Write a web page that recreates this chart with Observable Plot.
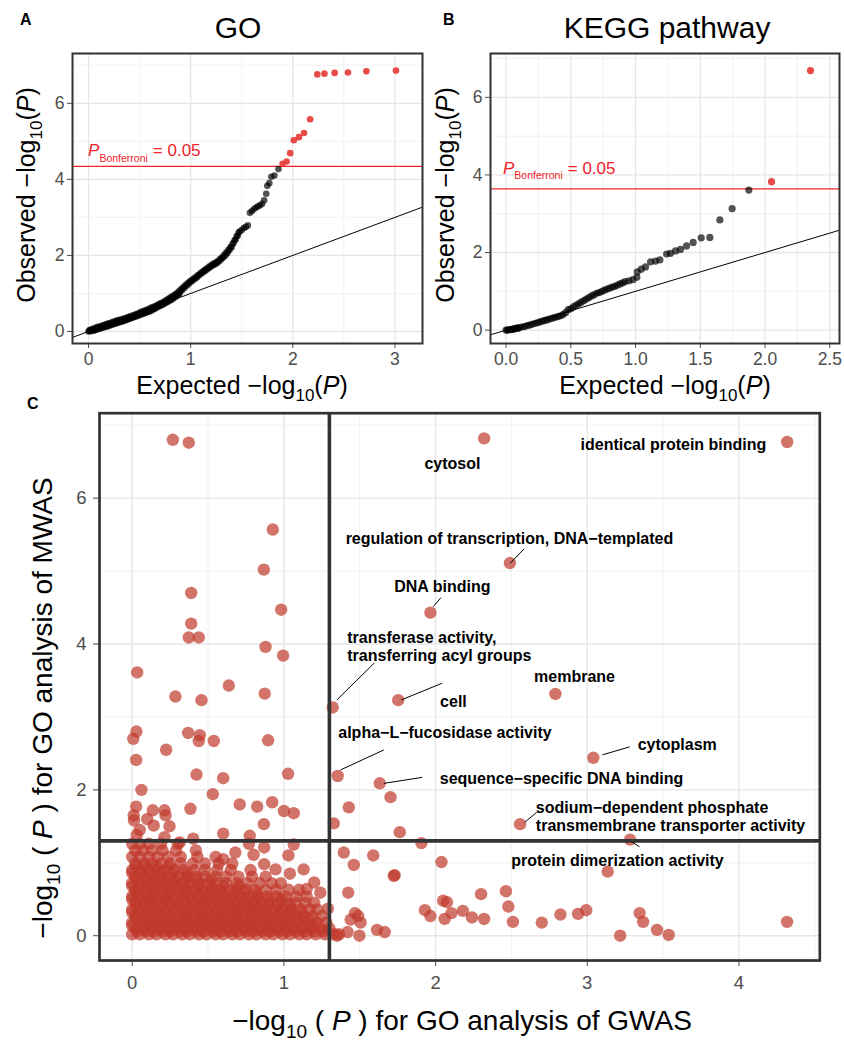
<!DOCTYPE html>
<html><head><meta charset="utf-8">
<script src="https://cdn.jsdelivr.net/npm/d3@7"></script>
<script src="https://cdn.jsdelivr.net/npm/@observablehq/plot@0.6"></script>
<style>
body{margin:0;background:#fff;}
#wrap{position:relative;width:844px;height:1041px;overflow:hidden;}
</style></head><body><div id="wrap"></div>
<script>
// ---------- Panel A: GO QQ plot (expected, observed) ----------
const goThreshold = 4.34;
const goPoints = [[0,0],[0.01,0.01],[0.02,0.03],[0.04,0.04],[0.06,0.05],[0.08,0.07],[0.1,0.09],[0.12,0.1],[0.14,0.12],[0.16,0.14],[0.18,0.15],[0.2,0.17],[0.22,0.19],[0.24,0.21],[0.26,0.23],[0.28,0.25],[0.3,0.26],[0.32,0.28],[0.34,0.29],[0.36,0.31],[0.38,0.33],[0.4,0.35],[0.42,0.37],[0.44,0.39],[0.46,0.41],[0.48,0.43],[0.5,0.46],[0.52,0.48],[0.54,0.5],[0.56,0.52],[0.58,0.54],[0.6,0.57],[0.62,0.59],[0.64,0.61],[0.66,0.64],[0.68,0.67],[0.7,0.7],[0.72,0.72],[0.74,0.75],[0.76,0.79],[0.78,0.82],[0.8,0.85],[0.82,0.88],[0.84,0.92],[0.86,0.96],[0.88,1.0],[0.9,1.05],[0.92,1.1],[0.94,1.15],[0.96,1.2],[0.98,1.25],[1.0,1.3],[1.02,1.34],[1.04,1.38],[1.06,1.42],[1.08,1.47],[1.1,1.52],[1.12,1.55],[1.14,1.59],[1.16,1.63],[1.18,1.67],[1.2,1.71],[1.22,1.74],[1.24,1.77],[1.26,1.8],[1.28,1.85],[1.3,1.9],[1.32,1.95],[1.34,2.0],[1.36,2.06],[1.38,2.14],[1.4,2.21],[1.42,2.33],[1.44,2.42],[1.46,2.52],[1.48,2.63],[1.5,2.67],[1.52,2.72],[1.54,2.75],[1.56,2.79],[1.58,3.12],[1.6,3.17],[1.62,3.22],[1.64,3.26],[1.66,3.29],[1.68,3.32],[1.7,3.36],[1.72,3.45],[1.74,3.62],[1.75,3.83],[1.77,3.9],[1.79,4.07],[1.82,4.1],[1.86,4.27],[1.9,4.41],[1.94,4.47],[1.975,4.69],[2.01,5.03],[2.06,5.11],[2.11,5.22],[2.17,5.58],[2.24,6.76],[2.31,6.78],[2.41,6.8],[2.54,6.81],[2.72,6.84],[3.01,6.86]];
const goPointsUpper = [[0.01,0.04],[0.03,0.06],[0.05,0.08],[0.07,0.1],[0.09,0.12],[0.11,0.13],[0.13,0.15],[0.15,0.17],[0.17,0.19],[0.19,0.21],[0.21,0.22],[0.23,0.24],[0.25,0.26],[0.27,0.28],[0.29,0.3],[0.31,0.31],[0.33,0.33],[0.35,0.34],[0.37,0.36],[0.39,0.38],[0.41,0.4],[0.43,0.42],[0.45,0.44],[0.47,0.46],[0.49,0.48],[0.51,0.51],[0.53,0.53],[0.55,0.55],[0.57,0.57],[0.59,0.59],[0.61,0.62],[0.63,0.64],[0.65,0.66],[0.67,0.69],[0.69,0.72],[0.71,0.75],[0.73,0.77],[0.75,0.81],[0.77,0.84],[0.79,0.87],[0.81,0.91],[0.83,0.94],[0.85,0.98],[0.87,1.02],[0.89,1.07],[0.91,1.12],[0.93,1.17],[0.95,1.22],[0.97,1.27],[0.99,1.31],[1.01,1.35],[1.03,1.39],[1.05,1.43],[1.07,1.48],[1.09,1.52],[1.11,1.56],[1.13,1.6],[1.15,1.64],[1.17,1.68],[1.19,1.72],[1.21,1.76],[1.23,1.79],[1.25,1.82],[1.27,1.86],[1.29,1.91],[1.31,1.96],[1.33,2.02],[1.35,2.08],[1.37,2.15],[1.39,2.22],[1.41,2.3],[1.43,2.4],[1.45,2.5],[1.47,2.6]];
const goPointsLower = [[0.03,0.01],[0.05,0.02],[0.07,0.04],[0.09,0.06],[0.11,0.07],[0.13,0.09],[0.15,0.11],[0.17,0.12],[0.19,0.14],[0.21,0.16],[0.23,0.18],[0.25,0.2],[0.27,0.21],[0.29,0.23],[0.31,0.25],[0.33,0.26],[0.35,0.28],[0.37,0.3],[0.39,0.32],[0.41,0.34],[0.43,0.36],[0.45,0.38],[0.47,0.4],[0.49,0.42],[0.51,0.44],[0.53,0.46],[0.55,0.48],[0.57,0.5],[0.59,0.52],[0.61,0.54],[0.63,0.57],[0.65,0.6],[0.67,0.63],[0.69,0.66],[0.71,0.68],[0.73,0.71],[0.75,0.74],[0.77,0.77],[0.79,0.8],[0.81,0.83],[0.83,0.87],[0.85,0.91],[0.87,0.95],[0.89,0.99]];
const goXDomain = [-0.157, 3.27];
const goYDomain = [-0.316, 7.31];
const goXTicks = [0, 1, 2, 3];
const goXMinor = [0.5, 1.5, 2.5];
const goYTicks = [0, 2, 4, 6];
const goYMinor = [1, 3, 5, 7];
const goBonfLabel = [0, 4.6];

// ---------- Panel B: KEGG QQ plot ----------
const keggThreshold = 3.64;
const keggPoints = [[0,0],[0.01,0.0],[0.02,0.01],[0.03,0.01],[0.04,0.02],[0.05,0.02],[0.06,0.03],[0.07,0.04],[0.08,0.05],[0.09,0.05],[0.1,0.06],[0.12,0.08],[0.14,0.09],[0.16,0.11],[0.18,0.13],[0.2,0.15],[0.22,0.17],[0.24,0.19],[0.26,0.21],[0.28,0.23],[0.3,0.25],[0.32,0.27],[0.34,0.29],[0.36,0.31],[0.38,0.33],[0.4,0.35],[0.42,0.37],[0.44,0.4],[0.46,0.45],[0.48,0.53],[0.5,0.55],[0.52,0.6],[0.54,0.64],[0.56,0.68],[0.58,0.72],[0.6,0.76],[0.62,0.8],[0.64,0.84],[0.66,0.88],[0.68,0.91],[0.7,0.95],[0.72,0.97],[0.74,1.0],[0.76,1.03],[0.78,1.06],[0.8,1.08],[0.82,1.11],[0.84,1.13],[0.86,1.16],[0.88,1.19],[0.9,1.22],[0.92,1.25],[0.95,1.27],[0.98,1.3],[1.01,1.36],[1.013,1.5],[1.044,1.57],[1.077,1.63],[1.116,1.76],[1.154,1.78],[1.188,1.81],[1.24,1.96],[1.27,1.98],[1.309,2.04],[1.347,2.08],[1.394,2.17],[1.445,2.26],[1.507,2.38],[1.574,2.39],[1.651,2.84],[1.746,3.13],[1.875,3.61],[2.05,3.825],[2.351,6.69]];
const keggXDomain = [-0.12, 2.575];
const keggYDomain = [-0.345, 7.13];
const keggXTicks = [0, 0.5, 1, 1.5, 2, 2.5];
const keggXMinor = [0.25, 0.75, 1.25, 1.75, 2.25];
const keggYTicks = [0, 2, 4, 6];
const keggYMinor = [1, 3, 5, 7];
const keggBonfLabel = [-0.02, 4.02];

// ---------- Panel C: GWAS vs MWAS GO -log10(P) ----------
const cLabeledPoints = [[4.318,6.77],[2.32,6.82],[2.49,5.11],[1.966,4.43],[1.322,3.13],[1.754,3.23],[2.79,3.315],[1.355,2.19],[3.04,2.44],[1.632,2.09],[2.557,1.53],[3.282,1.317]];
const cUpperLeftPoints = [[0.268,6.80],[0.373,6.76],[0.927,5.57],[0.868,5.02],[0.389,4.70],[0.982,4.47],[0.389,4.28],[0.373,4.09],[0.439,4.09],[0.879,3.96],[0.995,3.84],[0.033,3.61],[0.637,3.43],[0.285,3.28],[0.457,3.23],[0.874,3.32],[0.028,2.80],[0.007,2.70],[0.369,2.78],[0.446,2.75],[0.439,2.67],[0.538,2.67],[0.896,2.68],[0.224,2.55],[0.026,2.41],[0.424,2.21],[0.600,2.16],[1.028,2.22],[0.061,2.00],[0.531,1.94],[0.026,1.77],[0.136,1.72],[0.213,1.72],[0.384,1.74],[0.709,1.80],[0.824,1.77],[0.923,1.83],[1.0,1.71],[1.065,1.68],[0.01,1.65],[0.012,1.58],[0.099,1.60],[0.22,1.65],[0.142,1.51],[0.246,1.50],[0.868,1.53],[0.6,1.40],[0.775,1.37],[0.213,1.35],[0.402,1.33],[0.05,1.45],[0.03,1.38],[0.314,1.28],[0.77,1.26],[0.87,1.21],[1.065,1.25],[1.03,1.10],[0.80,1.11],[0.68,1.14],[0.60,1.05],[0.87,0.98],[1.13,0.91],[0.945,0.91],[1.04,0.85],[1.15,0.64],[1.24,0.59],[1.29,0.37],[1.2,0.73]];
const cRightPoints = [[1.428,1.76],[1.329,1.54],[1.703,1.90],[1.764,1.42],[1.907,1.27],[1.395,1.14],[1.589,1.10],[1.461,0.97],[2.039,1.01],[1.725,0.82],[1.73,0.83],[1.424,0.59],[3.135,0.88],[2.30,0.57],[2.464,0.61],[2.48,0.40],[2.05,0.48],[2.075,0.46],[1.93,0.35],[1.966,0.27],[2.105,0.31],[2.18,0.34],[2.24,0.25],[2.06,0.23],[2.32,0.23],[2.51,0.19],[2.70,0.18],[2.823,0.29],[2.939,0.30],[2.993,0.35],[3.345,0.31],[3.368,0.19],[3.217,0.0],[3.46,0.08],[3.537,0.01],[4.317,0.19],[1.469,0.31],[1.49,0.27],[1.506,0.18],[1.498,0.0],[1.614,0.08],[1.665,0.05],[1.364,0.02],[1.351,0.0],[1.42,0.05],[1.44,0.22]];
// dense cluster: one row of GWAS values per MWAS level
const cBlobY = [0.02, 0.06, 0.10, 0.14, 0.18, 0.23, 0.27, 0.32, 0.36, 0.41, 0.45, 0.50, 0.54, 0.59, 0.63, 0.68, 0.72, 0.77, 0.81, 0.86, 0.90, 0.95, 0.99, 1.08, 1.17, 1.26];
const cBlobX = [
  [0.00,0.05,0.11,0.16,0.22,0.27,0.33,0.38,0.44,0.49,0.55,0.6,0.66,0.71,0.77,0.82,0.88,0.93,0.99,1.04,1.1,1.15,1.21,1.27,1.33],
  [0.03,0.09,0.14,0.2,0.25,0.31,0.36,0.42,0.47,0.53,0.58,0.64,0.69,0.75,0.8,0.86,0.91,0.97,1.02,1.08,1.14,1.2,1.26],
  [0.02,0.08,0.13,0.19,0.24,0.3,0.35,0.41,0.46,0.52,0.57,0.63,0.68,0.74,0.79,0.85,0.9,0.96,1.01,1.07,1.12,1.18,1.24,1.3],
  [0.0,0.06,0.12,0.17,0.23,0.28,0.34,0.39,0.45,0.5,0.56,0.61,0.67,0.72,0.78,0.83,0.89,0.94,1.0,1.06,1.13,1.2],
  [0.00,0.05,0.11,0.16,0.22,0.27,0.33,0.38,0.44,0.49,0.55,0.6,0.66,0.71,0.77,0.82,0.88,0.93,0.99,1.04,1.1,1.16,1.22,1.28],
  [0.03,0.09,0.14,0.2,0.25,0.31,0.36,0.42,0.47,0.53,0.58,0.64,0.69,0.75,0.8,0.86,0.92,0.98,1.04,1.1,1.17],
  [0.02,0.08,0.13,0.19,0.24,0.3,0.35,0.41,0.46,0.52,0.57,0.63,0.68,0.74,0.79,0.85,0.9,0.96,1.01,1.07,1.13,1.19,1.25],
  [0.0,0.06,0.12,0.17,0.23,0.28,0.34,0.39,0.45,0.5,0.56,0.61,0.67,0.72,0.78,0.84,0.9,0.97,1.04,1.12],
  [0.00,0.05,0.11,0.16,0.22,0.27,0.33,0.38,0.44,0.49,0.55,0.6,0.66,0.71,0.77,0.82,0.88,0.93,0.99,1.05,1.11,1.17,1.22],
  [0.03,0.09,0.14,0.2,0.25,0.31,0.36,0.42,0.47,0.53,0.58,0.64,0.7,0.76,0.82,0.89,0.96,1.04],
  [0.02,0.08,0.13,0.19,0.24,0.3,0.35,0.41,0.46,0.52,0.57,0.63,0.68,0.74,0.79,0.85,0.9,0.96,1.02,1.08,1.14,1.2],
  [0.0,0.06,0.12,0.17,0.23,0.28,0.34,0.39,0.45,0.5,0.56,0.62,0.68,0.75,0.82,0.9,0.98],
  [0.00,0.05,0.11,0.16,0.22,0.27,0.33,0.38,0.44,0.49,0.55,0.6,0.66,0.71,0.77,0.83,0.89,0.95,1.01,1.08,1.15],
  [0.03,0.09,0.14,0.2,0.25,0.31,0.36,0.42,0.48,0.54,0.6,0.67,0.74,0.82],
  [0.02,0.08,0.13,0.19,0.24,0.3,0.35,0.41,0.46,0.52,0.57,0.63,0.69,0.75,0.81,0.88,0.95,1.03,1.1],
  [0.0,0.06,0.12,0.18,0.24,0.3,0.37,0.44,0.52,0.6,0.7],
  [0.00,0.05,0.11,0.16,0.22,0.27,0.33,0.38,0.44,0.5,0.56,0.62,0.69,0.76,0.84,0.92,0.98],
  [0.03,0.09,0.15,0.21,0.28,0.35,0.43,0.52],
  [0.02,0.08,0.13,0.19,0.24,0.3,0.36,0.42,0.48,0.55,0.62,0.7,0.79,0.88],
  [0.0,0.06,0.12,0.19,0.27,0.36],
  [0.00,0.05,0.11,0.16,0.22,0.28,0.34,0.41,0.48,0.56,0.65,0.78],
  [0.03,0.09,0.16,0.24],
  [0.02,0.08,0.13,0.19,0.25,0.32,0.4,0.48,0.57,0.66],
  [0.00,0.05,0.11,0.17,0.24,0.32,0.43,0.55],
  [0.02,0.07,0.13,0.2,0.29,0.42],
  [0.00,0.05,0.11,0.19,0.3]
];
const cXDomain = [-0.2155, 4.533];
const cYDomain = [-0.34, 7.165];
const cXTicks = [0, 1, 2, 3, 4];
const cXMinor = [0.5, 1.5, 2.5, 3.5, 4.5];
const cYTicks = [0, 2, 4, 6];
const cYMinor = [1, 3, 5, 7];
const cCutoff = [1.3];
const cLabelText = ["identical protein binding","cytosol","regulation of transcription, DNA\u2212templated","DNA binding","cell","membrane","alpha\u2212L\u2212fucosidase activity","cytoplasm","sequence\u2212specific DNA binding","protein dimerization activity"];
const cLabelX = [3.568, 2.111, 2.487, 2.045, 2.118, 2.916, 2.062, 3.593, 2.83, 3.199];
const cLabelY = [6.737, 6.476, 5.447, 4.779, 3.202, 3.545, 2.782, 2.61, 2.155, 1.03];
const cLeftLabelText = ["transferase activity,\ntransferring acyl groups", "sodium\u2212dependent phosphate\ntransmembrane transporter activity"];
const cLeftLabelX = [1.418, 2.661];
const cLeftLabelY = [3.968, 1.641];
const cSegX1 = [2.492, 1.984, 1.349, 1.773, 1.373, 1.659, 3.10, 2.587, 3.298];
const cSegY1 = [5.107, 4.513, 3.233, 3.233, 2.273, 2.089, 2.48, 1.554, 1.28];
const cSegX2 = [2.584, 2.036, 1.597, 2.042, 1.659, 1.912, 3.28, 2.666, 3.344];
const cSegY2 = [5.304, 4.636, 3.741, 3.461, 2.547, 2.171, 2.59, 1.691, 1.22];

// ---------- drawing ----------
const FONT = '"Liberation Sans", Arial, Helvetica, sans-serif';
const wrap = document.getElementById("wrap");

function place(svg, left, top) {
  svg.style.position = "absolute";
  svg.style.left = left + "px";
  svg.style.top = top + "px";
  svg.style.background = "transparent";
  svg.style.overflow = "visible";
  svg.style.maxWidth = "none";
  wrap.appendChild(svg);
}
function scaleFn(plot, name) {
  const s = plot.scale(name);
  if (s && typeof s.apply === "function") return v => s.apply(v);
  return d3.scaleLinear(s.domain, s.range);
}
function rich(svg, {x, y, rotate = 0, anchor = "middle", size, weight, fill = "black", parts}) {
  const t = d3.select(svg).append("text")
    .attr("transform", `translate(${x},${y})` + (rotate ? ` rotate(${rotate})` : ""))
    .attr("text-anchor", anchor).attr("font-size", size).attr("font-family", FONT)
    .attr("fill", fill).attr("stroke", "none");
  if (weight) t.attr("font-weight", weight);
  for (const p of parts) {
    const s = t.append("tspan").text(p.text);
    if (p.size) s.attr("font-size", p.size);
    if (p.dy) s.attr("dy", p.dy);
    if (p.dx) s.attr("dx", p.dx);
    if (p.italic) s.attr("font-style", "italic");
  }
  return t;
}

function qqPanel(cfg) {
  const P = cfg.points;
  const plot = Plot.plot({
    width: cfg.width, height: 410,
    marginLeft: cfg.mL, marginRight: cfg.mR, marginTop: 53, marginBottom: 67,
    style: {fontSize: "17.5px", fontFamily: FONT, color: "#4D4D4D", background: "transparent"},
    x: {domain: cfg.xDomain, ticks: cfg.xTicks, tickSize: 5, tickPadding: 4, label: null, tickFormat: cfg.xFormat},
    y: {domain: cfg.yDomain, ticks: cfg.yTicks, tickSize: 5, tickPadding: 3, label: null},
    marks: [
      Plot.ruleX(cfg.xMinor, {stroke: "#EDEDED", strokeWidth: 0.8}),
      Plot.ruleY(cfg.yMinor, {stroke: "#EDEDED", strokeWidth: 0.8}),
      Plot.ruleX(cfg.xTicks, {stroke: "#E6E6E6", strokeWidth: 1.3}),
      Plot.ruleY(cfg.yTicks, {stroke: "#E6E6E6", strokeWidth: 1.3}),
      Plot.line(cfg.xDomain, {x: d => d, y: d => d, stroke: "black", strokeWidth: 1}),
      Plot.ruleY([cfg.threshold], {stroke: "#F0222A", strokeWidth: 1.3}),
      Plot.dot(P.filter(d => d[1] <= cfg.threshold), {x: d => d[0], y: d => d[1], r: cfg.r, fill: "#000", fillOpacity: 0.68, stroke: "none"}),
      Plot.dot(P.filter(d => d[1] > cfg.threshold), {x: d => d[0], y: d => d[1], r: cfg.r, fill: "#E53935", fillOpacity: 0.9, stroke: "none"}),
      Plot.frame({stroke: "#333", strokeWidth: 2})
    ]
  });
  place(plot, cfg.left, 0);
  const sx = scaleFn(plot, "x"), sy = scaleFn(plot, "y");
  rich(plot, {x: sx(cfg.bonf[0]), y: sy(cfg.bonf[1]), anchor: "start", size: 17, fill: "#F0222A",
    parts: [{text: "P", italic: true}, {text: "Bonferroni", size: 10.5, dy: 5.5}, {text: "= 0.05", dy: -5.5, dx: 5}]});
  rich(plot, {x: cfg.titleX, y: 38, size: 30, parts: [{text: cfg.title}]});
  rich(plot, {x: cfg.letterX, y: 25, anchor: "start", size: 16, weight: "bold", parts: [{text: cfg.letter}]});
  rich(plot, {x: cfg.ytX, y: 195, rotate: -90, size: 25,
    parts: [{text: "Observed \u2212log"}, {text: "10", size: 17, dy: 7}, {text: "(", dy: -7}, {text: "P", italic: true}, {text: ")"}]});
  rich(plot, {x: cfg.xtX, y: 394, size: 25,
    parts: [{text: "Expected \u2212log"}, {text: "10", size: 17, dy: 7}, {text: "(", dy: -7}, {text: "P", italic: true}, {text: ")"}]});
}

qqPanel({points: [...goPointsLower, ...goPoints, ...goPointsUpper], threshold: goThreshold, xDomain: goXDomain, yDomain: goYDomain,
  xTicks: goXTicks, xMinor: goXMinor, yTicks: goYTicks, yMinor: goYMinor, xFormat: d3.format("d"),
  width: 424, left: 0, mL: 72, mR: 2, r: 3.3, bonf: goBonfLabel,
  title: "GO", titleX: 238, letter: "A", letterX: 20, ytX: 35, xtX: 242});
qqPanel({points: keggPoints, threshold: keggThreshold, xDomain: keggXDomain, yDomain: keggYDomain,
  xTicks: keggXTicks, xMinor: keggXMinor, yTicks: keggYTicks, yMinor: keggYMinor, xFormat: d3.format(".1f"),
  width: 420, left: 424, mL: 66, mR: 5, r: 3.6, bonf: keggBonfLabel,
  title: "KEGG pathway", titleX: 243, letter: "B", letterX: 19, ytX: 29.5, xtX: 241});

// Panel C
const cPoints = [...cUpperLeftPoints, ...cRightPoints, ...cLabeledPoints,
  ...cBlobY.flatMap((y, i) => cBlobX[i].map(x => [x, y]))];
const cLabels = cLabelText.map((t, i) => ({t, x: cLabelX[i], y: cLabelY[i]}));
const cLeftLabels = cLeftLabelText.map((t, i) => ({t, x: cLeftLabelX[i], y: cLeftLabelY[i]}));
const cSegs = cSegX1.map((x1, i) => ({x1, y1: cSegY1[i], x2: cSegX2[i], y2: cSegY2[i]}));

const plotC = Plot.plot({
  width: 844, height: 661,
  marginLeft: 99, marginRight: 24.7, marginTop: 32.7, marginBottom: 81,
  style: {fontSize: "18.5px", fontFamily: FONT, color: "#4D4D4D", background: "transparent"},
  x: {domain: cXDomain, ticks: cXTicks, tickSize: 6, tickPadding: 9, label: null, tickFormat: d3.format("d")},
  y: {domain: cYDomain, ticks: cYTicks, tickSize: 6, tickPadding: 7, label: null, tickFormat: d3.format("d")},
  marks: [
    Plot.ruleX(cXMinor, {stroke: "#EDEDED", strokeWidth: 0.8}),
    Plot.ruleY(cYMinor, {stroke: "#EDEDED", strokeWidth: 0.8}),
    Plot.ruleX(cXTicks, {stroke: "#E6E6E6", strokeWidth: 1.4}),
    Plot.ruleY(cYTicks, {stroke: "#E6E6E6", strokeWidth: 1.4}),
    Plot.dot(cPoints, {x: d => d[0], y: d => d[1], r: 6.2, fill: "#C0392B", fillOpacity: 0.7, stroke: "none"}),
    Plot.ruleX(cCutoff, {stroke: "#333", strokeWidth: 3.6}),
    Plot.ruleY(cCutoff, {stroke: "#333", strokeWidth: 3.6}),
    Plot.link(cSegs, {x1: "x1", y1: "y1", x2: "x2", y2: "y2", stroke: "black", strokeWidth: 1}),
    Plot.text(cLabels, {x: "x", y: "y", text: "t", fontSize: 16, fontWeight: "bold", fill: "black", textAnchor: "middle"}),
    Plot.text(cLeftLabels, {x: "x", y: "y", text: "t", fontSize: 16, fontWeight: "bold", fill: "black", textAnchor: "start", lineHeight: 1.14}),
    Plot.frame({stroke: "#333", strokeWidth: 2.7})
  ]
});
place(plotC, 0, 380);
rich(plotC, {x: 27, y: 29, anchor: "start", size: 16, weight: "bold", parts: [{text: "C"}]});
rich(plotC, {x: 52, y: 328, rotate: -90, size: 28,
  parts: [{text: "\u2212log"}, {text: "10", size: 19, dy: 8}, {text: " ( ", dy: -8}, {text: "P", italic: true}, {text: " ) for GO analysis of MWAS"}]});
rich(plotC, {x: 462, y: 650, size: 28,
  parts: [{text: "\u2212log"}, {text: "10", size: 19, dy: 8}, {text: " ( ", dy: -8}, {text: "P", italic: true}, {text: " ) for GO analysis of GWAS"}]});
</script></body></html>
